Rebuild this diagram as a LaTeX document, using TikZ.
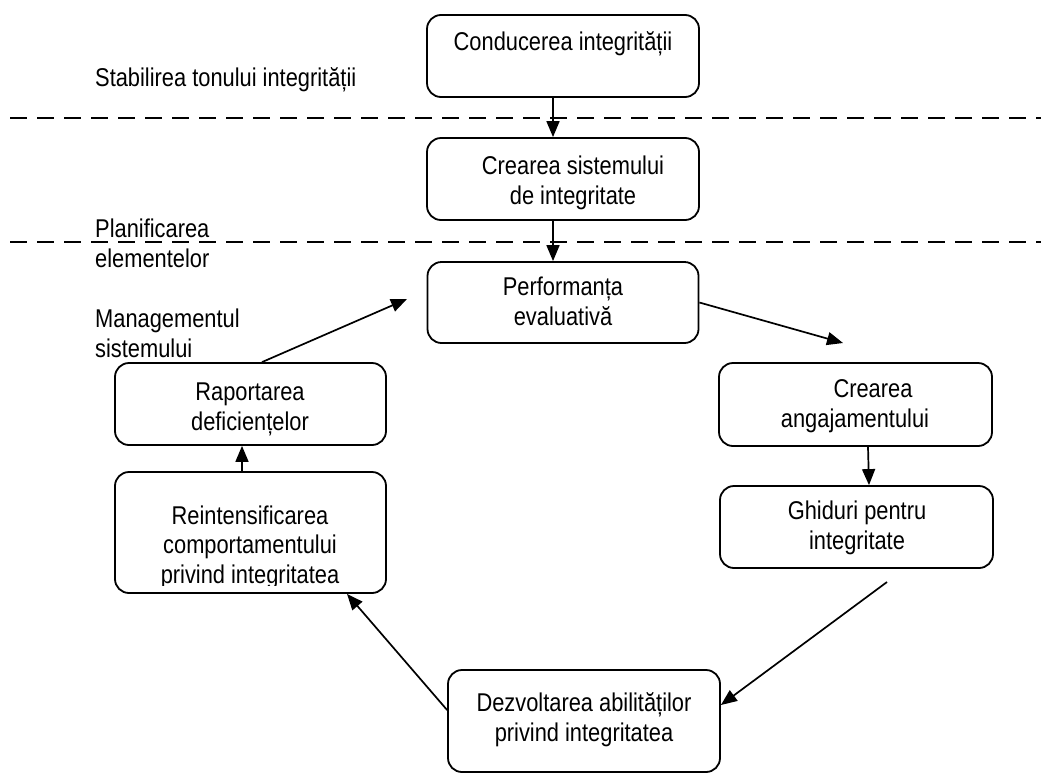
\documentclass[tikz,border=0pt]{standalone}
\usepackage{fontspec}
\setmainfont{Liberation Sans}[FakeStretch=0.85]
\usetikzlibrary{arrows.meta}
\begin{document}
\begin{tikzpicture}[x=1pt,y=-1pt,
 box/.style={draw, line width=1.8pt, rounded corners=14pt, inner sep=0pt},
 txt/.style={font=\fontsize{25.7}{29.5}\selectfont, align=center, inner sep=0pt, anchor=base},
 lbl/.style={font=\fontsize{25.7}{29.5}\selectfont, align=left, inner sep=0pt, anchor=base west},
 arr/.style={line width=1.7pt, -{Triangle[length=16pt,width=13pt]}},
 sep/.style={line width=1.5pt, dash pattern=on 17pt off 10pt}]
\useasboundingbox (0,0) rectangle (1041,774);

% separators
\draw[sep] (10,118) -- (1041,118);
\draw[sep] (10,242) -- (1041,242);

% boxes
\node[box, minimum width=272pt, minimum height=82pt] (b1) at (563,56) {};
\node[box, minimum width=272pt, minimum height=82pt] (b2) at (563,179) {};
\node[box, minimum width=271pt, minimum height=81pt] (b3) at (563,302.5) {};
\node[box, minimum width=271pt, minimum height=82pt] (b4) at (250.5,404) {};
\node[box, minimum width=271pt, minimum height=121pt] (b5) at (250.5,532.5) {};
\node[box, minimum width=273pt, minimum height=83pt] (b6) at (855.5,404.5) {};
\node[box, minimum width=273pt, minimum height=82pt] (b7) at (856.5,527) {};
\node[box, minimum width=272pt, minimum height=102pt] (b8) at (584,721) {};

% box texts (anchor = baseline of last line)
\node[txt] (t1) at (563,50) {Conducerea integrității};
\node[txt] (t2) at (573,204) {Crearea sistemului\\de integritate};
\node[txt] (t3) at (563,325) {Performanța\\evaluativă};
\node[txt] (t4) at (250,430) {Raportarea\\deficiențelor};
\begin{scope}
\clip (115,472) rectangle (386,585);
\node[txt] (t5) at (250,583) {Reintensificarea\\comportamentului\\privind integritatea};
\end{scope}
\node[txt] (t6) at (855,427) {\hspace*{36pt}Crearea\\angajamentului};
\node[txt] (t7) at (857,549) {Ghiduri pentru\\integritate};
\node[txt] (t8) at (584,741) {Dezvoltarea abilităților\\privind integritatea};

% side labels
\node[lbl] (l1) at (95,86) {Stabilirea tonului integrității};
\node[lbl] (l2) at (95,267) {Planificarea\\elementelor};
\node[lbl] (l3) at (95,357) {Managementul\\sistemului};

% free ends
\coordinate (c1) at (407,299);
\coordinate (c2) at (843,343);
\coordinate (c3) at (887,582);

% connectors
\draw[arr] ([xshift=-10pt]b1.south) -- ([xshift=-10pt]b2.north);
\draw[arr] ([xshift=-10pt]b2.south) -- ([xshift=-10pt]b3.north);
\draw[arr] (b3.east) -- (c2);
\draw[arr] ([xshift=12.5pt]b6.south) -- ([xshift=12.5pt]b7.north);
\draw[arr] (c3) -- ([yshift=16pt]b8.east);
\draw[arr] ([yshift=11pt]b8.west) -- ([xshift=96.5pt]b5.south);
\draw[arr] ([xshift=-8.5pt]b5.north) -- ([xshift=-8.5pt]b4.south);
\draw[arr] ([xshift=11.5pt]b4.north) -- (c1);
\end{tikzpicture}
\end{document}
